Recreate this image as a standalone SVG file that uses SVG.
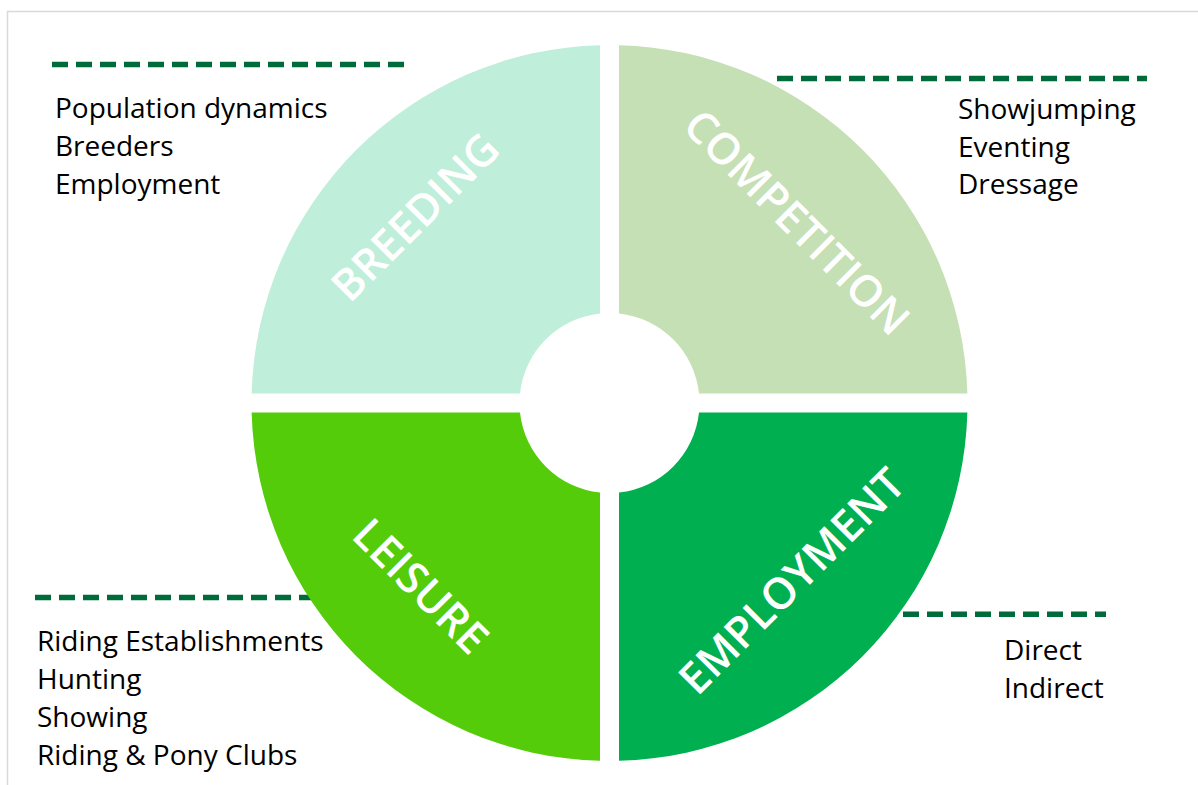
<svg xmlns="http://www.w3.org/2000/svg" width="1198" height="785" viewBox="0 0 1198 785">
  <style>
    .item { font-family: "Open Sans", "Noto Sans", "Liberation Sans", sans-serif; font-size: 28px; fill: #000000; }
    .label { font-family: "Open Sans", "Noto Sans", "Liberation Sans", sans-serif; font-size: 43.5px; font-weight: 600; fill: #ffffff; text-anchor: middle; }
    .dash { stroke: #006B3A; stroke-width: 5.5; stroke-dasharray: 16 8; fill: none; }
  </style>
  <rect x="0" y="0" width="1198" height="785" fill="#ffffff"/>
  <rect x="7.5" y="11.5" width="1220" height="800" fill="none" stroke="#D9D9D9" stroke-width="1.5"/>

  <g id="connectors">
    <line class="dash" x1="52" y1="64.5" x2="404" y2="64.5"/>
    <line class="dash" x1="777" y1="78.5" x2="1147" y2="78.5"/>
    <line class="dash" x1="35" y1="597.5" x2="330" y2="597.5"/>
    <line class="dash" x1="903" y1="614.3" x2="1106" y2="614.3"/>
  </g>

  <g id="breeding">
    <path d="M 600 45.13 A 358 358 0 0 0 251.63 393.5 L 520 393.5 A 90 90 0 0 1 600 313.5 Z" fill="#BFEEDA"/>
    <text class="label" transform="translate(426 228) rotate(-45)">BREEDING</text>
  </g>
  <g id="competition">
    <path d="M 619 45.13 A 358 358 0 0 1 967.37 393.5 L 699 393.5 A 90 90 0 0 0 619 313.5 Z" fill="#C5E0B4"/>
    <text class="label" transform="translate(786 233) rotate(45)">COMPETITION</text>
  </g>
  <g id="employment">
    <path d="M 967.37 412.5 A 358 358 0 0 1 619 760.87 L 619 492.5 A 90 90 0 0 0 699 412.5 Z" fill="#00AF50"/>
    <text class="label" transform="translate(802.5 592) rotate(-45)">EMPLOYMENT</text>
  </g>
  <g id="leisure">
    <path d="M 600 760.87 A 358 358 0 0 1 251.63 412.5 L 520 412.5 A 90 90 0 0 0 600 492.5 Z" fill="#54CC0A"/>
    <text class="label" transform="translate(410 597) rotate(45)">LEISURE</text>
  </g>

  <g id="breeding-items">
    <text class="item" x="55" y="118">Population dynamics</text>
    <text class="item" x="55" y="156">Breeders</text>
    <text class="item" x="55" y="194">Employment</text>
  </g>
  <g id="competition-items">
    <text class="item" x="958" y="119">Showjumping</text>
    <text class="item" x="958" y="156.5">Eventing</text>
    <text class="item" x="958" y="194">Dressage</text>
  </g>
  <g id="leisure-items">
    <text class="item" x="37" y="651">Riding Establishments</text>
    <text class="item" x="37" y="689">Hunting</text>
    <text class="item" x="37" y="727">Showing</text>
    <text class="item" x="37" y="765">Riding &amp; Pony Clubs</text>
  </g>
  <g id="employment-items">
    <text class="item" x="1004" y="660">Direct</text>
    <text class="item" x="1004" y="698">Indirect</text>
  </g>
</svg>
